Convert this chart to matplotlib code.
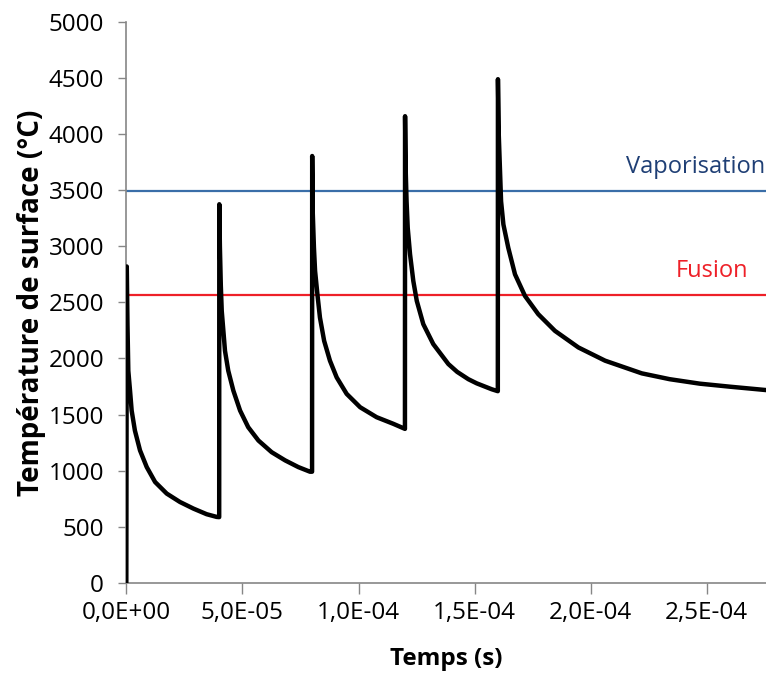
import matplotlib
matplotlib.use('Agg')
import matplotlib.pyplot as plt
from matplotlib.ticker import FuncFormatter

plt.rcParams['font.family'] = ['Open Sans', 'DejaVu Sans']

# surface temperature, time in s
temps_s = [0.0, 0.2e-6, 0.5e-6, 0.86e-6, 1.6e-6, 2.3e-6, 3.7e-6, 5.9e-6, 8.8e-6, 12.4e-6, 17.4e-6, 23.1e-6, 28.9e-6,
           34.6e-6, 38.9e-6, 40.0e-6,
           40.05e-6, 40.3e-6, 40.7e-6, 41.1e-6, 41.8e-6, 42.5e-6, 43.9e-6, 46.1e-6, 49.0e-6, 52.5e-6, 56.9e-6, 62.6e-6,
           68.4e-6, 74.1e-6, 79.1e-6, 80.0e-6,
           80.05e-6, 80.3e-6, 80.8e-6, 81.3e-6, 82.3e-6, 83.4e-6, 85.2e-6, 87.7e-6, 90.6e-6, 94.9e-6, 100.7e-6, 107.8e-6,
           115.0e-6, 120.0e-6,
           120.05e-6, 120.3e-6, 120.7e-6, 121.2e-6, 122.2e-6, 123.6e-6, 125.1e-6, 127.9e-6, 132.2e-6, 138.7e-6, 142.5e-6,
           147.3e-6, 150.9e-6, 157.4e-6, 160.0e-6,
           160.05e-6, 160.4e-6, 160.9e-6, 161.4e-6, 162.4e-6, 164.5e-6, 167.4e-6, 171.7e-6, 177.4e-6, 184.6e-6, 194.7e-6,
           206.2e-6, 222.0e-6, 234.0e-6, 247.0e-6, 260.0e-6, 275.5e-6]
temperature = [0, 2820, 2300, 1890, 1713, 1535, 1357, 1180, 1031, 898, 795, 720, 661,
               611, 587, 585,
               3375, 3000, 2650, 2424, 2246, 2068, 1891, 1713, 1535, 1387, 1268, 1164,
               1091, 1031, 990, 990,
               3805, 3300, 2990, 2780, 2572, 2364, 2157, 1980, 1831, 1684, 1565, 1476,
               1417, 1372,
               4160, 3700, 3400, 3164, 2928, 2691, 2513, 2306, 2128, 1950, 1880,
               1815, 1778, 1725, 1708,
               4490, 4000, 3700, 3402, 3195, 2987, 2750, 2557, 2395, 2246, 2098,
               1980, 1867, 1815, 1775, 1748, 1718]

vaporisation = 3495
fusion = 2565

x_ticks = [0, 5e-5, 1e-4, 1.5e-4, 2e-4, 2.5e-4]
y_ticks = [0, 500, 1000, 1500, 2000, 2500, 3000, 3500, 4000, 4500, 5000]

fig = plt.figure(figsize=(7.66, 6.75), dpi=100)
ax = fig.add_axes([0.1649, 0.1367, 0.8351, 0.8307])

ax.axhline(vaporisation, color='#3a6ea8', lw=1.6, zorder=1)
ax.axhline(fusion, color='#ee2028', lw=1.6, zorder=1)
ax.plot(temps_s, temperature, color='black', lw=3.2, solid_joinstyle='round', zorder=3)

ax.text(2.752e-4, vaporisation + 105, 'Vaporisation', color='#1f3f75', fontsize=17,
        ha='right', va='bottom')
ax.text(2.68e-4, fusion + 105, 'Fusion', color='#ee2028', fontsize=17,
        ha='right', va='bottom')

ax.set_xlim(0, 2.755e-4)
ax.set_ylim(0, 5000)
ax.set_xticks(x_ticks)
ax.set_yticks(y_ticks)
ax.xaxis.set_major_formatter(FuncFormatter(lambda v, p: '{:.1E}'.format(v).replace('.', ',')))
ax.tick_params(axis='both', colors='#868686', labelcolor='black', labelsize=17.5, width=1)
ax.tick_params(axis='x', length=8, pad=5)
ax.tick_params(axis='y', length=6, pad=10)

for side in ['top', 'right']:
    ax.spines[side].set_visible(False)
for side in ['left', 'bottom']:
    ax.spines[side].set_color('#868686')
    ax.spines[side].set_linewidth(1.2)

ax.set_xlabel('Temps (s)', fontsize=17.5, fontweight='bold', labelpad=16)
ax.set_ylabel('Température de surface (°C)', fontsize=20, fontweight='bold', labelpad=2)

plt.savefig('out.png', dpi=100)
